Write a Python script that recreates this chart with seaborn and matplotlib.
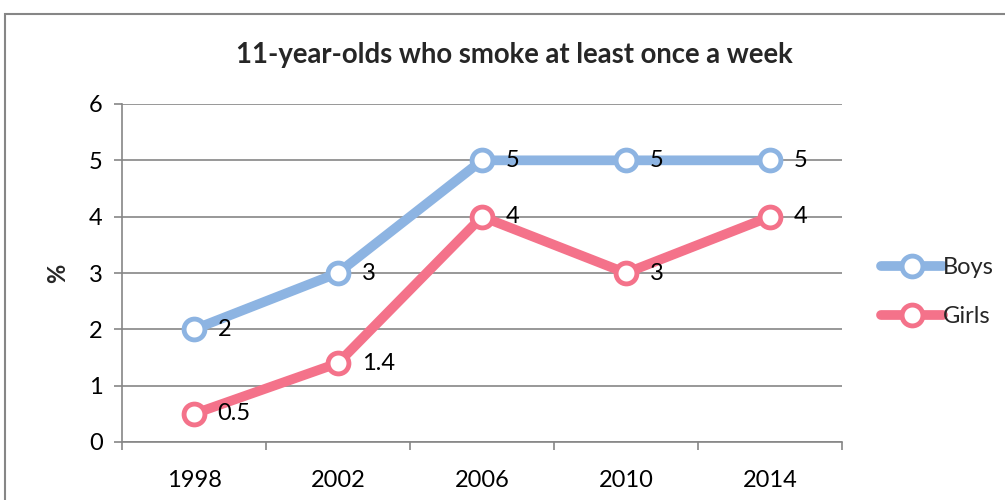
import matplotlib
matplotlib.use("Agg")
import matplotlib.pyplot as plt
import seaborn as sns
import pandas as pd
from matplotlib.patches import Rectangle
from matplotlib.lines import Line2D

years = ["1998", "2002", "2006", "2010", "2014"]
boys = [2, 3, 5, 5, 5]
girls = [0.5, 1.4, 4, 3, 4]
boys_labels = ["2", "3", "5", "5", "5"]
girls_labels = ["0.5", "1.4", "4", "3", "4"]
series_names = ["Boys", "Girls"]
colors = ["#8DB4E2", "#F4728A"]

sns.set_theme(style="white")
plt.rcParams['font.family'] = ['Lato', 'DejaVu Sans']

df = pd.DataFrame({
    "year": years * 2,
    "value": boys + girls,
    "series": [series_names[0]] * len(years) + [series_names[1]] * len(years),
})

fig = plt.figure(figsize=(10.05, 5.0), dpi=100)
ax = fig.add_axes([122/1005, 58/500, 720/1005, 338/500])

LW = 7
MS = 15
MEW = 3.5
FS = 17

sns.lineplot(data=df, x="year", y="value", hue="series", palette=colors,
             linewidth=LW, marker="o", markersize=MS, markerfacecolor="white",
             markeredgewidth=MEW, ax=ax, legend=False, sort=False)
for line, c in zip(ax.get_lines(), colors):
    line.set_markeredgecolor(c)
    line.set_solid_capstyle("round")

for vals, labs in [(boys, boys_labels), (girls, girls_labels)]:
    for i, (v, t) in enumerate(zip(vals, labs)):
        ax.annotate(t, (i, v), xytext=(17, 0), textcoords="offset points",
                    ha="left", va="center", fontsize=FS, color="black")

ax.set_xlim(-0.5, len(years) - 0.5)
ax.set_ylim(0, 6)
ax.set_yticks(range(0, 7))
ax.set_xticks(range(len(years)))
ax.set_xticklabels(years)
ax.set_xticks([i - 0.5 for i in range(len(years) + 1)], minor=True)
ax.grid(axis="y", color="#868686", linewidth=1.2)
ax.set_axisbelow(True)
for s in ["top", "right"]:
    ax.spines[s].set_visible(False)
for s in ["left", "bottom"]:
    ax.spines[s].set_color("#868686")
    ax.spines[s].set_linewidth(1.2)
ax.tick_params(axis="y", which="major", left=True, length=6, width=1.2, color="#868686",
               labelsize=FS, pad=8, labelcolor="black")
ax.tick_params(axis="x", which="major", bottom=False, labelsize=FS, pad=14, labelcolor="black")
ax.tick_params(axis="x", which="minor", bottom=True, length=6, width=1.2, color="#868686")
ax.set_xlabel("")
ax.set_ylabel("%", fontsize=FS, fontweight="bold", labelpad=14)

fig.text(514/1005, 1 - 55/500, "11-year-olds who smoke at least once a week",
         ha="center", va="center", fontsize=19.8, fontweight="bold")

handles = [Line2D([0], [0], color=c, linewidth=LW, marker="o", markersize=MS,
                  markerfacecolor="white", markeredgecolor=c, markeredgewidth=MEW,
                  solid_capstyle="round")
           for c in colors]
fig.legend(handles, series_names, loc="center left",
           bbox_to_anchor=(860/1005, 1 - 292/500), frameon=False, fontsize=FS,
           handlelength=2.6, handletextpad=0.0, labelspacing=1.2)

fig.patches.append(Rectangle((5/1005, -0.1), 1.2, (500 - 14)/500 + 0.1,
                             transform=fig.transFigure, fill=False,
                             edgecolor="#868686", linewidth=1.5))

fig.savefig("out.png", dpi=100)
